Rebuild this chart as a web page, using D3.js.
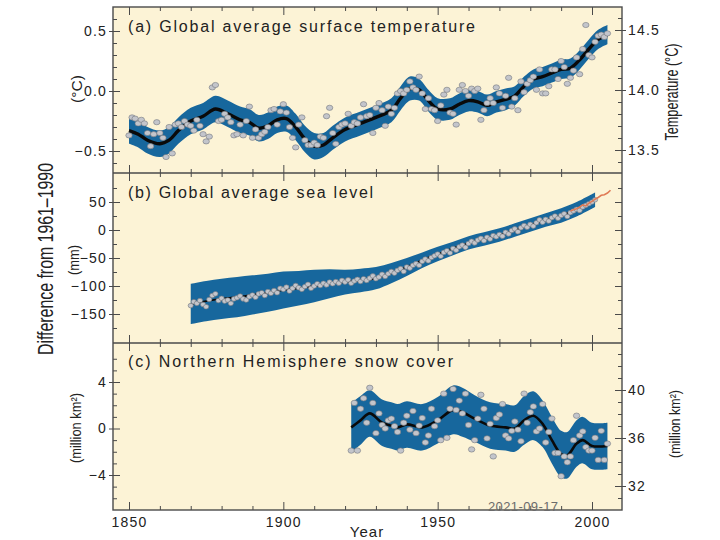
<!DOCTYPE html>
<html><head><meta charset="utf-8">
<script src="https://cdn.jsdelivr.net/npm/d3@7"></script>
<style>
body{margin:0;background:#fff}
text{font-family:"Liberation Sans",Arial,Helvetica,sans-serif;fill:#222}
</style>
</head><body>
<svg id="chart" width="720" height="540"></svg>
<script>
// ---------------- DATA ----------------
// (a) Global average surface temperature, annual anomalies (°C, vs 1961-1990), 1850-2005
const tempYears = d3.range(1850, 2006);
const tempAnnual = [
 -0.37,-0.22,-0.23,-0.27,-0.24,-0.27,-0.35,-0.46,-0.36,-0.26,
 -0.35,-0.39,-0.55,-0.30,-0.52,-0.28,-0.27,-0.30,-0.25,-0.28,
 -0.29,-0.33,-0.24,-0.29,-0.36,-0.42,-0.38,0.03,0.05,-0.25,
 -0.24,-0.19,-0.22,-0.26,-0.37,-0.36,-0.28,-0.37,-0.25,-0.13,
 -0.39,-0.32,-0.39,-0.36,-0.34,-0.30,-0.16,-0.15,-0.28,-0.17,
 -0.11,-0.18,-0.30,-0.39,-0.47,-0.28,-0.22,-0.41,-0.45,-0.45,
 -0.43,-0.45,-0.38,-0.39,-0.21,-0.14,-0.35,-0.44,-0.30,-0.28,
 -0.27,-0.19,-0.29,-0.26,-0.27,-0.22,-0.11,-0.21,-0.20,-0.35,
 -0.14,-0.10,-0.16,-0.29,-0.13,-0.19,-0.14,-0.02,0.00,-0.02,
 0.01,0.08,0.03,0.01,0.12,-0.02,-0.15,-0.06,-0.15,-0.16,
 -0.25,-0.12,-0.03,0.01,-0.18,-0.19,-0.28,0.01,0.05,0.00,
 -0.04,0.02,0.00,0.02,-0.24,-0.16,-0.10,-0.06,-0.10,0.03,
 -0.02,-0.14,-0.04,0.11,-0.13,-0.06,-0.16,0.08,-0.01,0.06,
 0.09,0.12,0.01,0.18,-0.02,-0.02,0.04,0.18,0.18,0.10,
 0.25,0.20,0.06,0.11,0.17,0.28,0.14,0.35,0.55,0.30,
 0.28,0.41,0.46,0.47,0.45,0.48
];
const tempSmoothYears = [1850,1853,1856,1860,1863,1866,1870,1874,1878,1882,1886,1889,1892,1895,1898,1901,1904,1907,1910,1913,1916,1920,1925,1930,1935,1938,1941,1944,1947,1950,1954,1957,1960,1963,1966,1969,1972,1975,1978,1981,1984,1987,1990,1993,1996,1999,2002,2005];
const tempSmooth = [-0.33,-0.36,-0.41,-0.44,-0.41,-0.33,-0.25,-0.21,-0.15,-0.19,-0.24,-0.26,-0.31,-0.29,-0.24,-0.23,-0.30,-0.40,-0.46,-0.45,-0.39,-0.32,-0.27,-0.22,-0.16,-0.06,0.02,0.01,-0.08,-0.15,-0.15,-0.11,-0.08,-0.09,-0.12,-0.09,-0.07,-0.04,0.04,0.10,0.12,0.15,0.18,0.19,0.26,0.35,0.43,0.47];
const tempBand = [0.11,0.11,0.11,0.11,0.11,0.11,0.11,0.11,0.11,0.11,0.11,0.11,0.11,0.11,0.11,0.11,0.11,0.11,0.11,0.10,0.10,0.10,0.10,0.10,0.10,0.10,0.10,0.09,0.09,0.09,0.09,0.09,0.09,0.09,0.09,0.09,0.09,0.08,0.08,0.08,0.08,0.08,0.08,0.08,0.08,0.08,0.08,0.08];

// (b) Global average sea level (mm), 1870-2001
const seaYears = d3.range(1870, 2002);
const seaAnnual = [
 -135,-128,-131,-126,-133,-137,-124,-117,-114,-126,
 -122,-127,-125,-131,-123,-121,-118,-123,-125,-119,
 -116,-120,-114,-112,-117,-110,-113,-108,-112,-104,
 -106,-102,-109,-104,-99,-103,-106,-101,-97,-104,
 -100,-96,-99,-95,-98,-93,-96,-92,-95,-90,
 -93,-89,-95,-91,-88,-92,-87,-90,-86,-82,
 -87,-84,-79,-83,-78,-74,-77,-72,-69,-74,
 -66,-68,-63,-60,-63,-56,-52,-55,-49,-46,
 -43,-47,-40,-37,-41,-33,-36,-30,-27,-31,
 -24,-20,-23,-18,-15,-19,-13,-16,-10,-12,
 -8,-11,-4,-7,-1,2,-3,4,8,5,
 10,7,13,18,14,19,16,22,25,21,
 26,29,24,31,34,37,35,41,44,47,
 50,54
];
const seaSmoothYears = [1870,1875,1880,1885,1890,1895,1900,1905,1910,1915,1920,1925,1930,1935,1940,1945,1950,1955,1960,1965,1970,1975,1980,1985,1990,1995,2001];
const seaSmooth = [-132,-127,-123,-120,-116,-112,-107,-104,-100,-96,-93,-90,-86,-77,-66,-54,-43,-33,-23,-16,-9,0,9,18,26,37,54];
const seaBand = [36,36,36,36,35,34,33,31,29,26,22,21,20,18,16,14,13,12,12,12,12,12,12,12,13,13,13];
const seaSatYears = [1993,1994,1995,1996,1997,1998,1999,2000,2001,2002,2003,2004,2005,2006];
const seaSat = [34,36,38,41,45,43,48,51,55,58,62,63,66,71];

// (c) Northern Hemisphere snow cover (million km², anomaly), 1922-2005
const snowYears = d3.range(1922, 2006);
const snowAnnual = [
 -1.9,2.2,-1.9,1.7,2.6,0.5,3.5,2.2,-0.4,1.3,
 0.3,0.0,0.7,0.85,0.2,-0.3,-1.9,0.5,1.1,-0.1,
 1.5,-0.4,0.25,0.9,-1.2,-0.6,1.7,0.2,0.7,-1.0,
 3.0,-0.8,1.7,3.4,1.6,2.4,1.3,3.0,0.3,-1.8,
 -1.0,0.85,2.9,1.7,-0.85,0.4,-2.4,0.9,1.2,2.1,
 -0.6,-0.85,-0.2,0.6,-0.1,-1.1,3.0,0.5,1.4,1.9,
 -0.25,0.0,2.1,-1.2,-0.3,0.85,-2.1,-2.1,-4.1,-2.4,
 -2.9,-2.4,-1.0,1.1,-0.6,-0.25,-1.6,-1.9,-1.9,-0.8,
 -2.7,-0.2,-2.7,-1.3
];
const snowSmoothYears = [1922,1925,1928,1932,1935,1937,1940,1945,1950,1955,1958,1962,1967,1972,1975,1978,1981,1984,1987,1990,1992,1995,1997,2000,2005];
const snowSmooth = [0.1,0.7,1.3,0.5,0.25,0.1,0.35,0.1,0.7,1.6,1.4,0.85,0.25,0.1,0.0,0.7,1.1,0.4,-1.0,-2.2,-2.3,-1.3,-1.0,-1.5,-1.5];
const snowBand = [2.1,2.1,2.0,2.0,2.0,2.0,2.0,2.0,2.0,2.1,2.1,2.0,2.0,2.0,2.0,2.1,2.1,2.0,2.0,2.0,2.0,2.0,2.0,2.0,2.0];

// ticks
const xMajor = [1850,1900,1950,2000];
const xMinor = [1860,1870,1880,1890,1910,1920,1930,1940,1960,1970,1980,1990];
const tempMajor = [-0.5,0.0,0.5];
const tempRightMajor = [13.5,14.0,14.5];
const seaMajor = [-150,-100,-50,0,50];
const snowMajor = [-4,0,4];
const snowRightMajor = [32,36,40];

// ---------------- LAYOUT ----------------
const C = {bg:"#fcf3d6", band:"#17679d", line:"#0a0a0a", pt:"#c3c5cb", ptStroke:"#74777d", frame:"#4a4a4a", sat:"#e07a55"};
const L = 113, R = 622;
const P = {a:[7,173], b:[173,343], c:[343,510]};

const svg = d3.select("#chart");
const x = d3.scaleLinear().domain([1850,2000]).range([129,592]);
const yA = d3.scaleLinear().domain([-0.5,0.5]).range([151,31]);
const yAR = d3.scaleLinear().domain([13.5,14.5]).range([150,30]);
const yB = d3.scaleLinear().domain([-150,50]).range([314,202]);
const yBR = yB.copy();
const yC = d3.scaleLinear().domain([-4,4]).range([475,382]);
const yCR = d3.scaleLinear().domain([32,40]).range([486,390]);

svg.append("rect").attr("x",L).attr("y",P.a[0]).attr("width",R-L).attr("height",P.c[1]-P.a[0]).attr("fill",C.bg);

const defs = svg.append("defs");
Object.entries(P).forEach(([k,[t,b]])=>{
  defs.append("clipPath").attr("id","clip-"+k).append("rect").attr("x",L).attr("y",t).attr("width",R-L).attr("height",b-t);
});

const cr = d3.curveCatmullRom.alpha(0.5);
function drawSeries(key, y, sYears, sVals, sBand, aYears, aVals, opts){
  const g = svg.append("g").attr("clip-path",`url(#clip-${key})`);
  const sm = sYears.map((yr,i)=>({yr, v:sVals[i], w:sBand[i]}));
  g.append("path").datum(sm)
    .attr("d", d3.area().x(d=>x(d.yr)).y0(d=>y(d.v-d.w)).y1(d=>y(d.v+d.w)).curve(cr))
    .attr("fill", C.band);
  g.append("path").datum(sm)
    .attr("d", d3.line().x(d=>x(d.yr)).y(d=>y(d.v)).curve(cr))
    .attr("fill","none").attr("stroke",C.line).attr("stroke-width",opts.lw);
  g.selectAll("ellipse.p").data(aYears.map((yr,i)=>({yr,v:aVals[i]}))).join("ellipse")
    .attr("cx",d=>x(d.yr)).attr("cy",d=>y(d.v))
    .attr("rx",opts.rx).attr("ry",opts.ry)
    .attr("fill",C.pt).attr("stroke",C.ptStroke).attr("stroke-width",0.6);
  return g;
}
drawSeries("a", yA, tempSmoothYears, tempSmooth, tempBand, tempYears, tempAnnual, {lw:3.4, rx:3.2, ry:2.6});
const gb = drawSeries("b", yB, seaSmoothYears, seaSmooth, seaBand, seaYears, seaAnnual, {lw:2, rx:2.6, ry:2.3});
gb.append("path").datum(seaSatYears.map((yr,i)=>({yr,v:seaSat[i]})))
  .attr("d", d3.line().x(d=>x(d.yr)).y(d=>yB(d.v)))
  .attr("fill","none").attr("stroke",C.sat).attr("stroke-width",1.6);
drawSeries("c", yC, snowSmoothYears, snowSmooth, snowBand, snowYears, snowAnnual, {lw:2.6, rx:3.2, ry:2.7});

// ---------------- AXES ----------------
function clean(g){ g.select(".domain").remove(); g.selectAll("line").attr("stroke",C.frame).attr("stroke-width",1); return g; }
const tickFont = g => g.selectAll("text").style("font-size","14px").style("letter-spacing","1.2px").attr("fill","#222");

Object.values(P).forEach(([t,b])=>{
  clean(svg.append("g").attr("transform",`translate(0,${b})`).call(d3.axisBottom(x).tickValues(xMinor).tickSize(-4).tickFormat("")));
  clean(svg.append("g").attr("transform",`translate(0,${t})`).call(d3.axisTop(x).tickValues(xMinor).tickSize(-4).tickFormat("")));
  clean(svg.append("g").attr("transform",`translate(0,${b})`).call(d3.axisBottom(x).tickValues(xMajor).tickSize(-8).tickFormat("")));
  clean(svg.append("g").attr("transform",`translate(0,${t})`).call(d3.axisTop(x).tickValues(xMajor).tickSize(-8).tickFormat("")));
});
const xLab = svg.append("g").attr("transform",`translate(0,${P.c[1]})`)
  .call(d3.axisBottom(x).tickValues(xMajor).tickSize(0).tickPadding(7).tickFormat(d3.format("d")));
clean(xLab); tickFont(xLab);

function yAxis(scale, side, majors, minors, fmt, labels){
  const X = side==="left"?L:R;
  const ax = side==="left"?d3.axisLeft:d3.axisRight;
  clean(svg.append("g").attr("transform",`translate(${X},0)`).call(ax(scale).tickValues(minors).tickSize(-4).tickFormat("")));
  clean(svg.append("g").attr("transform",`translate(${X},0)`).call(ax(scale).tickValues(majors).tickSize(-7).tickFormat("")));
  const g = svg.append("g").attr("transform",`translate(${X},0)`)
    .call(ax(scale).tickValues(majors).tickSize(labels?4:0).tickPadding(2).tickFormat(labels?fmt:""));
  clean(g); tickFont(g);
}
const tempMinorL = [-0.6,-0.4,-0.3,-0.2,-0.1,0.1,0.2,0.3,0.4,0.6];
const tempMinorR = [13.4,13.6,13.7,13.8,13.9,14.1,14.2,14.3,14.4,14.6];
yAxis(yA,"left",tempMajor,tempMinorL,d3.format(".1f"),true);
yAxis(yAR,"right",tempRightMajor,tempMinorR,d3.format(".1f"),true);
const seaMinor = [-175,-125,-75,-25,25,75];
yAxis(yB,"left",seaMajor,seaMinor,d3.format("d"),true);
yAxis(yBR,"right",seaMajor,seaMinor,d3.format("d"),false);
const snowMinorL = [-6,-5,-3,-2,-1,1,2,3,5,6];
const snowMinorR = [31,33,34,35,37,38,39,41,42,43];
yAxis(yC,"left",snowMajor,snowMinorL,d3.format("d"),true);
yAxis(yCR,"right",snowRightMajor,snowMinorR,d3.format("d"),true);

const fr = svg.append("g").attr("stroke",C.frame).attr("stroke-width",1.4).attr("fill","none");
fr.append("rect").attr("x",L).attr("y",P.a[0]).attr("width",R-L).attr("height",P.c[1]-P.a[0]);
fr.append("line").attr("x1",L).attr("x2",R).attr("y1",P.b[0]).attr("y2",P.b[0]);
fr.append("line").attr("x1",L).attr("x2",R).attr("y1",P.c[0]).attr("y2",P.c[0]);

// ---------------- TEXT ----------------
function title(txt, y, len){
  svg.append("text").attr("x",128).attr("y",y).attr("textLength",len).attr("lengthAdjust","spacing")
    .style("font-size","16px").text(txt);
}
title("(a) Global average surface temperature", 32, 347);
title("(b) Global average sea level", 198, 245);
title("(c) Northern Hemisphere snow cover", 367, 325);

function vlabel(txt, cx, cy, size, len){
  svg.append("text").attr("transform",`translate(${cx},${cy}) rotate(-90)`)
    .attr("text-anchor","middle").attr("dominant-baseline","central")
    .attr("textLength",len).attr("lengthAdjust","spacingAndGlyphs")
    .style("font-size",size+"px").text(txt);
}
vlabel("Difference from 1961–1990", 45, 259, 22, 192);
vlabel("(°C)", 76, 89, 15, 28);
vlabel("(mm)", 73, 260, 15, 30);
vlabel("(million km²)", 75, 428, 15, 70);
vlabel("Temperature (°C)", 672, 92, 18, 97);
vlabel("(million km²)", 674, 424, 15, 68);

svg.append("text").attr("x",367).attr("y",537).attr("text-anchor","middle")
  .style("font-size","15px").style("letter-spacing","1px").text("Year");
svg.append("text").attr("x",488).attr("y",511).attr("textLength",70)
  .style("font-size","13px").style("fill","#6b6b6b").text("2021-09-17");
</script>
</body></html>
